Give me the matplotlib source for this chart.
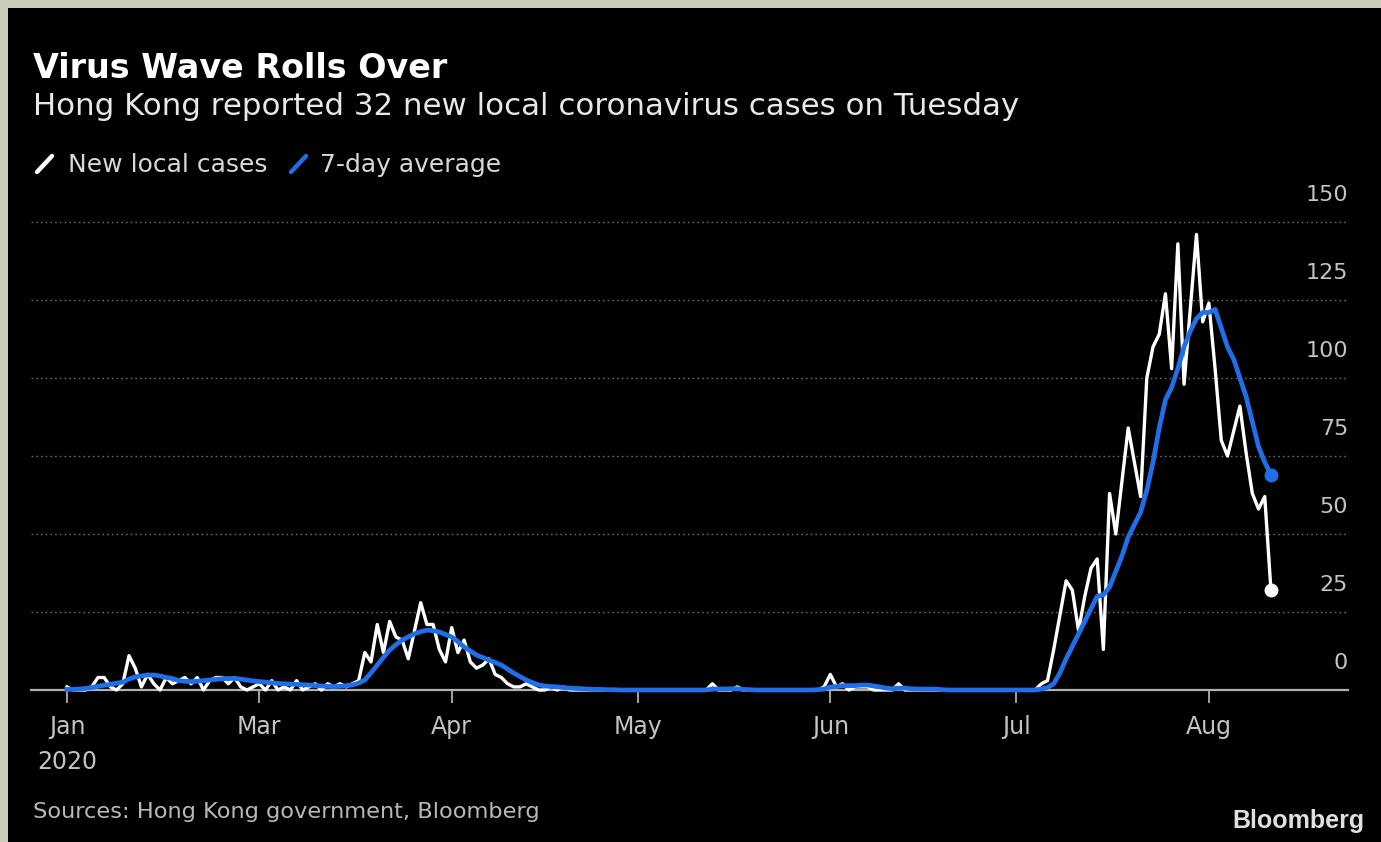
import matplotlib
matplotlib.use("Agg")
import matplotlib.pyplot as plt
from matplotlib.lines import Line2D
from matplotlib.patches import Rectangle
from matplotlib.transforms import offset_copy
import numpy as np
import pandas as pd

# ---------------- data ----------------
start_date = "2020-01-30"
end_date = "2020-08-11"

cases_jan = [1, 0]
cases_feb = [0, 0, 1, 4, 4, 1, 0, 2, 11, 7,
             1, 5, 2, 0, 4, 2, 3, 4, 2, 4,
             0, 3, 4, 4, 2, 4, 1, 0, 1]
cases_mar = [2, 0, 3, 0, 1, 0, 3, 0, 1, 2,
             0, 2, 1, 2, 1, 2, 3, 12, 9, 21,
             12, 22, 17, 16, 10, 19, 28, 21, 21, 13,
             9]
cases_apr = [20, 12, 16, 9, 7, 8, 10, 5, 4, 2,
             1, 1, 2, 1, 0, 0, 1, 0, 1, 0,
             0, 0, 0, 0, 0, 0, 0, 0, 0, 0]
cases_may = [0, 0, 0, 0, 0, 0, 0, 0, 0, 0,
             0, 0, 2, 0, 0, 0, 1, 0, 0, 0,
             0, 0, 0, 0, 0, 0, 0, 0, 0, 0,
             1]
cases_jun = [5, 1, 2, 0, 1, 1, 1, 0, 0, 0,
             0, 2, 0, 0, 0, 0, 0, 0, 0, 0,
             0, 0, 0, 0, 0, 0, 0, 0, 0, 0]
cases_jul = [0, 0, 0, 0, 2, 3, 13, 24, 35, 32,
             19, 30, 39, 42, 13, 63, 50, 67, 84, 73,
             62, 100, 110, 114, 127, 103, 143, 98, 122, 146,
             118]
cases_aug = [124, 103, 80, 75, 83, 91, 76, 63, 58, 62, 32]

avg_jan = [0.2, 0.2]
avg_feb = [0.3, 0.5, 0.8, 1.2, 1.5, 1.8, 2.2, 2.5, 3.5, 4.2,
           4.5, 4.8, 4.8, 4.5, 4.0, 3.7, 3.0, 2.8, 2.7, 2.8,
           3.0, 3.2, 3.4, 3.6, 3.7, 3.7, 3.5, 3.2, 2.9]
avg_mar = [2.7, 2.5, 2.3, 2.1, 2.0, 1.9, 1.8, 1.7, 1.6, 1.4,
           1.3, 1.2, 1.1, 1.2, 1.4, 1.6, 2.2, 3.2, 5.5, 8.0,
           10.5, 12.8, 14.5, 16.0, 17.0, 18.0, 18.7, 19.2, 19.0, 18.6,
           17.8]
avg_apr = [17.0, 15.5, 13.8, 12.5, 11.2, 10.4, 9.6, 8.8, 8.0, 6.7,
           5.4, 4.3, 3.2, 2.4, 1.6, 1.3, 1.1, 1.0, 0.8, 0.6,
           0.5, 0.4, 0.3, 0.2, 0.2, 0.1, 0.1, 0.0, 0.0, 0.0]
avg_may = [0, 0, 0, 0, 0, 0, 0, 0, 0, 0,
           0, 0, 0.3, 0.3, 0.3, 0.4, 0.4, 0.2, 0.1, 0,
           0, 0, 0, 0, 0, 0, 0, 0, 0, 0.1,
           0.3]
avg_jun = [1.0, 1.1, 1.4, 1.4, 1.4, 1.6, 1.6, 1.3, 1.0, 0.6,
           0.4, 0.6, 0.6, 0.4, 0.3, 0.3, 0.3, 0.3, 0.1, 0,
           0, 0, 0, 0, 0, 0, 0, 0, 0, 0]
avg_jul = [0, 0, 0, 0, 0.3, 0.8, 2.0, 5.5, 10, 14,
           18, 22, 26, 30, 30.5, 33, 38, 43, 49, 53,
           57, 64, 73, 84, 93, 97, 103, 110, 115, 119,
           121]
avg_aug = [121, 122, 116, 110, 106, 100, 94, 86, 78, 73, 69]

y_ticks = [0, 25, 50, 75, 100, 125, 150]
x_tick_dates = ["2020-01-30", "2020-03-01", "2020-04-01", "2020-05-01",
                "2020-06-01", "2020-07-01", "2020-08-01"]
x_tick_labels = ["Jan\n2020", "Mar", "Apr", "May", "Jun", "Jul", "Aug"]

title = "Virus Wave Rolls Over"
subtitle = "Hong Kong reported 32 new local coronavirus cases on Tuesday"
legend_labels = ["New local cases", "7-day average"]
source = "Sources: Hong Kong government, Bloomberg"
brand = "Bloomberg"

# ---------------- build series ----------------
dates = pd.date_range(start_date, end_date, freq="D")
cases = np.array(cases_jan + cases_feb + cases_mar + cases_apr + cases_may
                 + cases_jun + cases_jul + cases_aug, dtype=float)
avg = np.array(avg_jan + avg_feb + avg_mar + avg_apr + avg_may
               + avg_jun + avg_jul + avg_aug, dtype=float)

# ---------------- figure ----------------
W, H = 1381, 842
fig = plt.figure(figsize=(W / 100, H / 100), dpi=100)
fig.patch.set_facecolor("#c9ccb6")
fig.patches.append(Rectangle((8 / W, 0), 1, 1 - 8 / H, transform=fig.transFigure,
                             facecolor="black", edgecolor="none", zorder=-10))

def fx(px):
    return px / W

def fy(py):
    return 1 - py / H

ax_l, ax_r, ax_t, ax_b = 31, 1348, 222, 690
ax = fig.add_axes([fx(ax_l), fy(ax_b), fx(ax_r - ax_l), (ax_b - ax_t) / H])
ax.set_facecolor("none")

BLUE = "#1f6fe8"
GRID = "#6a6a6a"

for v in y_ticks[1:]:
    ax.axhline(v, color=GRID, lw=1.0, ls=(0, (1.2, 2.2)), zorder=1, clip_on=False)

ax.plot(dates, cases, color="white", lw=2.4, zorder=3, solid_joinstyle="round", clip_on=False)
ax.plot(dates, avg, color=BLUE, lw=3.4, zorder=4, solid_joinstyle="round", clip_on=False)
ax.plot(dates[-1:], cases[-1:], "o", color="white", ms=9, zorder=5, clip_on=False)
ax.plot(dates[-1:], avg[-1:], "o", color=BLUE, ms=9, zorder=5, clip_on=False)

ax.set_ylim(0, 150)
ax.set_xlim(pd.Timestamp("2020-01-24 05:00"), pd.Timestamp("2020-08-23 10:00"))

for s in ["top", "left", "right"]:
    ax.spines[s].set_visible(False)
ax.spines["bottom"].set_color("#b0b0b0")
ax.spines["bottom"].set_linewidth(1.6)
ax.spines["bottom"].set_zorder(2)

ax.set_yticks([])
ax.set_xticks([pd.Timestamp(d) for d in x_tick_dates])
ax.set_xticklabels(x_tick_labels, linespacing=1.6)
ax.tick_params(axis="x", length=9, width=1.3, color="#b0b0b0", pad=9,
               labelsize=17, labelcolor="#c4c4c4")

ytr = offset_copy(ax.get_yaxis_transform(), fig=fig, x=0, y=27, units="dots")
for v in y_ticks:
    ax.text(1.0, v, str(v), transform=ytr, ha="right", va="center",
            fontsize=16, color="#c4c4c4")

# ---------------- texts ----------------
fig.text(fx(33), fy(78), title, fontsize=24, fontweight="bold", color="white",
         va="baseline", ha="left")
fig.text(fx(33), fy(115), subtitle, fontsize=22.2, color="#e8e8e8",
         va="baseline", ha="left")

# legend
fig.add_artist(Line2D([fx(37), fx(52)], [fy(172), fy(156)], color="white", lw=3.2,
                      solid_capstyle="round", transform=fig.transFigure))
fig.text(fx(68), fy(172), legend_labels[0], fontsize=18, color="#d8d8d8",
         va="baseline", ha="left")
fig.add_artist(Line2D([fx(291), fx(306)], [fy(172), fy(156)], color=BLUE, lw=3.2,
                      solid_capstyle="round", transform=fig.transFigure))
fig.text(fx(320), fy(172), legend_labels[1], fontsize=18, color="#d8d8d8",
         va="baseline", ha="left")

fig.text(fx(33), fy(818), source, fontsize=16.2, color="#b8b8b8",
         va="baseline", ha="left")
fig.text(fx(1365), fy(828), brand, fontsize=18, fontweight="bold", color="#e0e0e0",
         family="Liberation Sans", va="baseline", ha="right")

fig.savefig("out.png", dpi=100, facecolor=fig.get_facecolor())
